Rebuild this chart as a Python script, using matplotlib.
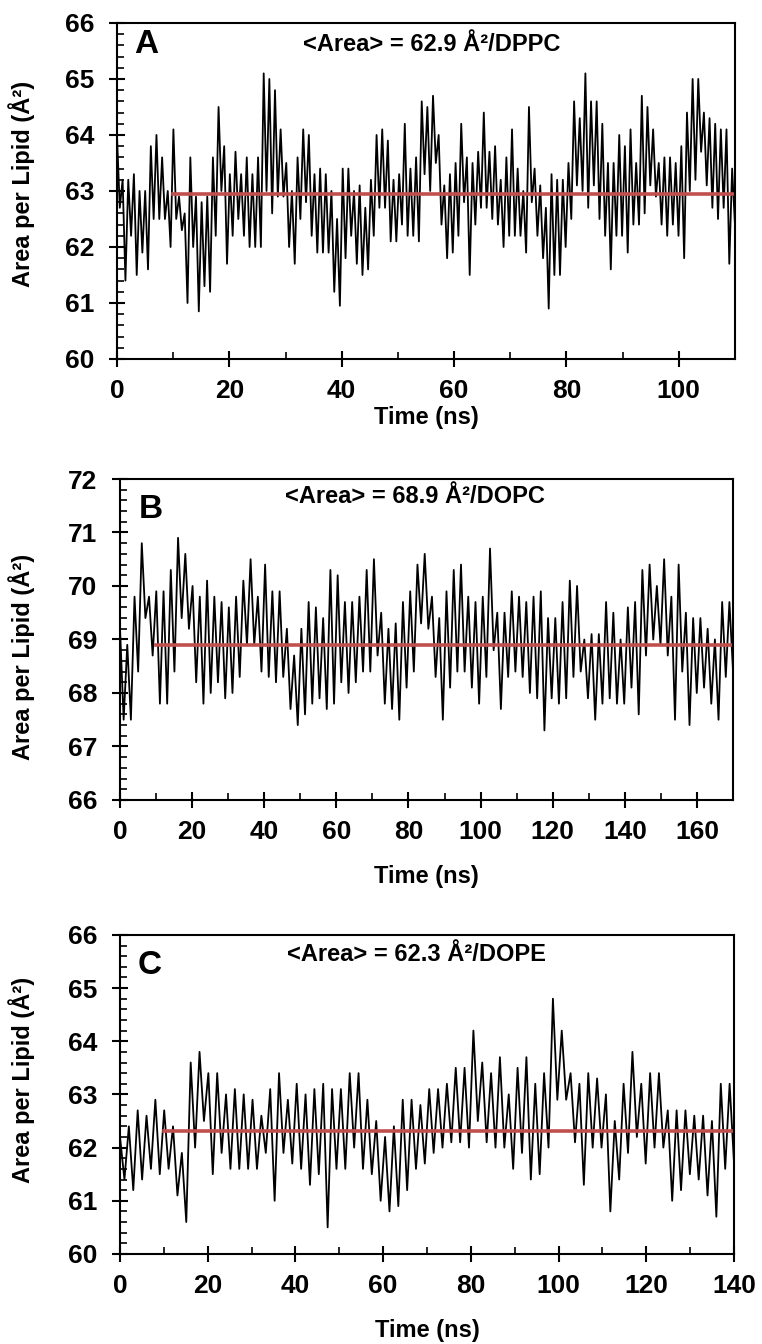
import numpy as np
import matplotlib
matplotlib.use("Agg")
import matplotlib.pyplot as plt
from matplotlib.ticker import MultipleLocator

plt.rcParams['font.family'] = ['Liberation Sans', 'DejaVu Sans']

# panel A (DPPC): high / low of the trace in each 1 ns bin, 0-110 ns
a_hi = [64.0, 63.2, 63.2, 63.3, 63.0, 63.0, 63.8, 64.0, 63.6, 63.0,
        64.1, 62.9, 62.6, 63.6, 62.9, 62.8, 62.9, 63.6, 64.5, 63.8,
        63.3, 63.7, 63.3, 63.6, 63.3, 63.6, 65.1, 65.0, 64.8, 64.1,
        63.5, 63.0, 63.6, 64.1, 64.0, 63.3, 63.4, 63.3, 63.0, 62.5,
        63.4, 63.4, 63.0, 63.1, 62.7, 63.2, 64.0, 64.1, 63.9, 63.2,
        63.3, 64.2, 63.4, 63.6, 64.6, 64.5, 64.7, 64.0, 63.1, 63.3,
        63.5, 64.2, 63.6, 63.5, 63.7, 64.4, 63.7, 63.8, 63.2, 63.6,
        64.1, 63.4, 63.0, 64.5, 63.4, 63.1, 62.7, 63.3, 63.2, 63.2,
        63.5, 64.6, 64.3, 65.1, 64.6, 64.6, 64.2, 63.5, 63.5, 64.0,
        63.8, 64.1, 63.5, 64.7, 64.5, 64.1, 63.5, 63.6, 63.6, 63.5,
        63.8, 64.4, 65.0, 65.0, 64.4, 64.3, 64.2, 64.1, 64.1, 63.4]
a_lo = [62.7, 61.4, 62.2, 61.5, 61.9, 61.6, 62.5, 62.5, 62.5, 62.0,
        62.5, 62.3, 61.0, 62.0, 60.85, 61.3, 61.2, 62.2, 63.0, 61.7,
        62.2, 62.5, 62.2, 62.0, 62.0, 62.0, 63.0, 62.6, 62.9, 62.9,
        62.0, 61.7, 62.5, 62.8, 62.2, 61.9, 61.9, 61.9, 61.2, 60.95,
        61.8, 62.2, 61.7, 61.5, 61.6, 62.2, 62.7, 62.7, 62.1, 62.1,
        62.4, 62.2, 62.2, 62.1, 63.3, 63.0, 63.5, 62.4, 61.8, 61.9,
        62.2, 62.8, 61.5, 62.4, 62.7, 62.7, 62.5, 62.4, 62.0, 62.2,
        62.2, 62.2, 61.9, 62.8, 62.2, 61.8, 60.9, 61.5, 61.5, 62.0,
        62.5, 63.1, 63.0, 62.7, 63.1, 62.5, 62.2, 61.6, 62.2, 62.2,
        61.9, 62.4, 62.4, 62.6, 63.1, 62.9, 62.4, 62.2, 62.4, 62.2,
        61.8, 63.0, 63.2, 63.7, 63.1, 62.7, 62.5, 62.7, 61.7, 62.4]

# panel B (DOPC): high / low in each 2 ns bin, 0-170 ns
b_hi = [69.2, 68.9, 69.8, 70.8, 69.8, 69.9, 69.9, 70.3, 70.9, 70.6,
        70.0, 69.8, 70.1, 69.8, 69.7, 69.6, 69.8, 70.1, 70.5, 69.8,
        70.4, 69.9, 69.9, 69.2, 68.7, 69.2, 69.7, 69.6, 69.4, 70.3,
        70.2, 69.7, 69.7, 69.8, 70.3, 70.5, 69.5, 69.2, 69.3, 69.7,
        69.9, 70.4, 70.6, 69.8, 69.4, 69.9, 70.3, 70.4, 69.8, 69.7,
        69.8, 70.7, 69.5, 69.5, 69.9, 69.8, 69.7, 69.8, 69.9, 69.4,
        69.4, 69.7, 70.1, 70.0, 69.0, 69.1, 69.1, 69.7, 69.5, 69.0,
        69.6, 69.7, 70.3, 70.4, 70.0, 70.5, 69.8, 70.4, 69.5, 69.4,
        69.4, 69.2, 69.0, 69.7, 69.7]
b_lo = [67.5, 67.5, 68.4, 69.4, 68.7, 67.8, 67.8, 68.4, 69.4, 69.2,
        68.2, 67.8, 68.0, 68.2, 67.9, 68.0, 68.3, 68.9, 68.9, 68.4,
        68.3, 68.2, 68.3, 67.7, 67.4, 67.6, 67.8, 67.9, 67.7, 67.8,
        68.2, 68.0, 68.2, 68.4, 68.4, 68.7, 67.8, 67.7, 67.5, 68.1,
        68.4, 69.3, 69.2, 68.3, 67.5, 68.1, 68.4, 68.4, 68.1, 67.8,
        68.3, 68.8, 67.7, 68.3, 68.4, 68.3, 68.0, 67.9, 67.3, 67.9,
        67.8, 67.9, 68.3, 68.4, 67.9, 67.5, 67.8, 67.9, 67.8, 67.8,
        68.1, 67.6, 68.7, 69.0, 68.9, 68.7, 67.5, 68.4, 67.4, 68.0,
        68.1, 67.8, 67.5, 68.3, 68.4]

# panel C (DOPE): high / low in each 2 ns bin, 0-140 ns
c_hi = [62.2, 62.4, 62.7, 62.6, 62.9, 62.7, 62.4, 61.9, 63.6, 63.8,
        63.4, 63.4, 63.0, 63.1, 63.0, 62.9, 62.6, 63.1, 63.4, 62.9,
        63.2, 63.0, 63.1, 63.2, 63.1, 63.1, 63.4, 63.4, 62.9, 62.5,
        62.2, 62.4, 62.9, 62.9, 62.8, 63.1, 63.1, 63.2, 63.5, 63.5,
        64.2, 63.6, 63.4, 63.7, 63.0, 63.5, 63.7, 63.2, 63.4, 64.8,
        64.2, 63.4, 63.2, 63.4, 63.3, 63.0, 62.5, 63.2, 63.8, 63.2,
        63.4, 63.4, 62.7, 62.7, 62.7, 62.6, 62.6, 62.5, 63.2, 63.2]
c_lo = [61.4, 61.2, 61.4, 61.6, 61.5, 61.6, 61.1, 60.6, 62.0, 62.5,
        61.5, 61.9, 61.6, 61.6, 61.6, 61.6, 61.9, 61.0, 61.9, 61.7,
        61.6, 61.3, 61.5, 60.5, 61.6, 61.6, 62.0, 61.6, 61.5, 61.0,
        60.8, 60.9, 61.2, 61.6, 61.7, 61.9, 62.0, 62.1, 62.1, 62.0,
        62.5, 62.1, 62.0, 62.0, 61.6, 61.9, 61.4, 61.5, 62.0, 62.9,
        62.9, 62.1, 61.3, 62.0, 62.0, 60.8, 61.4, 61.9, 62.2, 61.7,
        62.0, 62.0, 61.0, 61.2, 61.5, 61.4, 61.1, 60.7, 61.6, 61.7]

panels = [
    dict(hi=a_hi, lo=a_lo, tend=110, mean=62.95, label='A', lipid='DPPC', avg='62.9',
         ylim=(60, 66), rect=[0.1535, 0.7329, 0.811, 0.25],
         tpos=(0.51, 0.935), lpos=(0.048, 0.935), xl=-0.14, yl=(-0.133, 0.52)),
    dict(hi=b_hi, lo=b_lo, tend=170, mean=68.9, label='B', lipid='DOPC', avg='68.9',
         ylim=(66, 72), rect=[0.1575, 0.4048, 0.8045, 0.2388],
         tpos=(0.481, 0.944), lpos=(0.05, 0.905), xl=-0.2025, yl=(-0.139, 0.445)),
    dict(hi=c_hi, lo=c_lo, tend=140, mean=62.32, label='C', lipid='DOPE', avg='62.3',
         ylim=(60, 66), rect=[0.1575, 0.067, 0.8058, 0.2374],
         tpos=(0.482, 0.94), lpos=(0.049, 0.905), xl=-0.205, yl=(-0.139, 0.545)),
]

fig = plt.figure(figsize=(7.62, 13.44), dpi=100)

for p in panels:
    ax = fig.add_axes(p['rect'])
    hi = np.array(p['hi'])
    lo = np.array(p['lo'])
    n = len(hi)
    # zigzag through the high / low of every bin
    x = np.linspace(0, p['tend'], 2 * n)
    y = np.column_stack([hi, lo]).ravel()
    ax.plot(x, y, color='black', lw=1.3)
    ax.plot([10, p['tend']], [p['mean'], p['mean']], color='#c0504d', lw=2.6)

    ax.set_xlim(0, p['tend'])
    ax.set_ylim(*p['ylim'])
    ax.xaxis.set_major_locator(MultipleLocator(20))
    ax.xaxis.set_minor_locator(MultipleLocator(10))
    ax.yaxis.set_major_locator(MultipleLocator(1))
    ax.yaxis.set_minor_locator(MultipleLocator(0.2))
    ax.tick_params(which='major', direction='inout', length=11, width=1.5,
                   labelsize=19)
    ax.tick_params(which='minor', direction='in', length=5, width=1.2)
    ax.tick_params(axis='x', pad=9)
    ax.tick_params(axis='y', pad=11)
    for lab in ax.get_xticklabels() + ax.get_yticklabels():
        lab.set_fontweight('bold')
    for s in ax.spines.values():
        s.set_linewidth(1.5)

    ax.set_xlabel('Time (ns)', fontsize=17, fontweight='bold')
    ax.xaxis.set_label_coords(0.5, p['xl'])
    ax.set_ylabel('Area per Lipid (Å²)', fontsize=17, fontweight='bold')
    ax.yaxis.set_label_coords(*p['yl'])
    ax.text(p['lpos'][0], p['lpos'][1], p['label'], transform=ax.transAxes,
            fontsize=24, fontweight='bold', ha='center', va='center')
    ax.text(p['tpos'][0], p['tpos'][1], '<Area> = %s Å²/%s' % (p['avg'], p['lipid']),
            transform=ax.transAxes, fontsize=17, fontweight='bold',
            ha='center', va='center')

fig.savefig('out.png', dpi=100)
